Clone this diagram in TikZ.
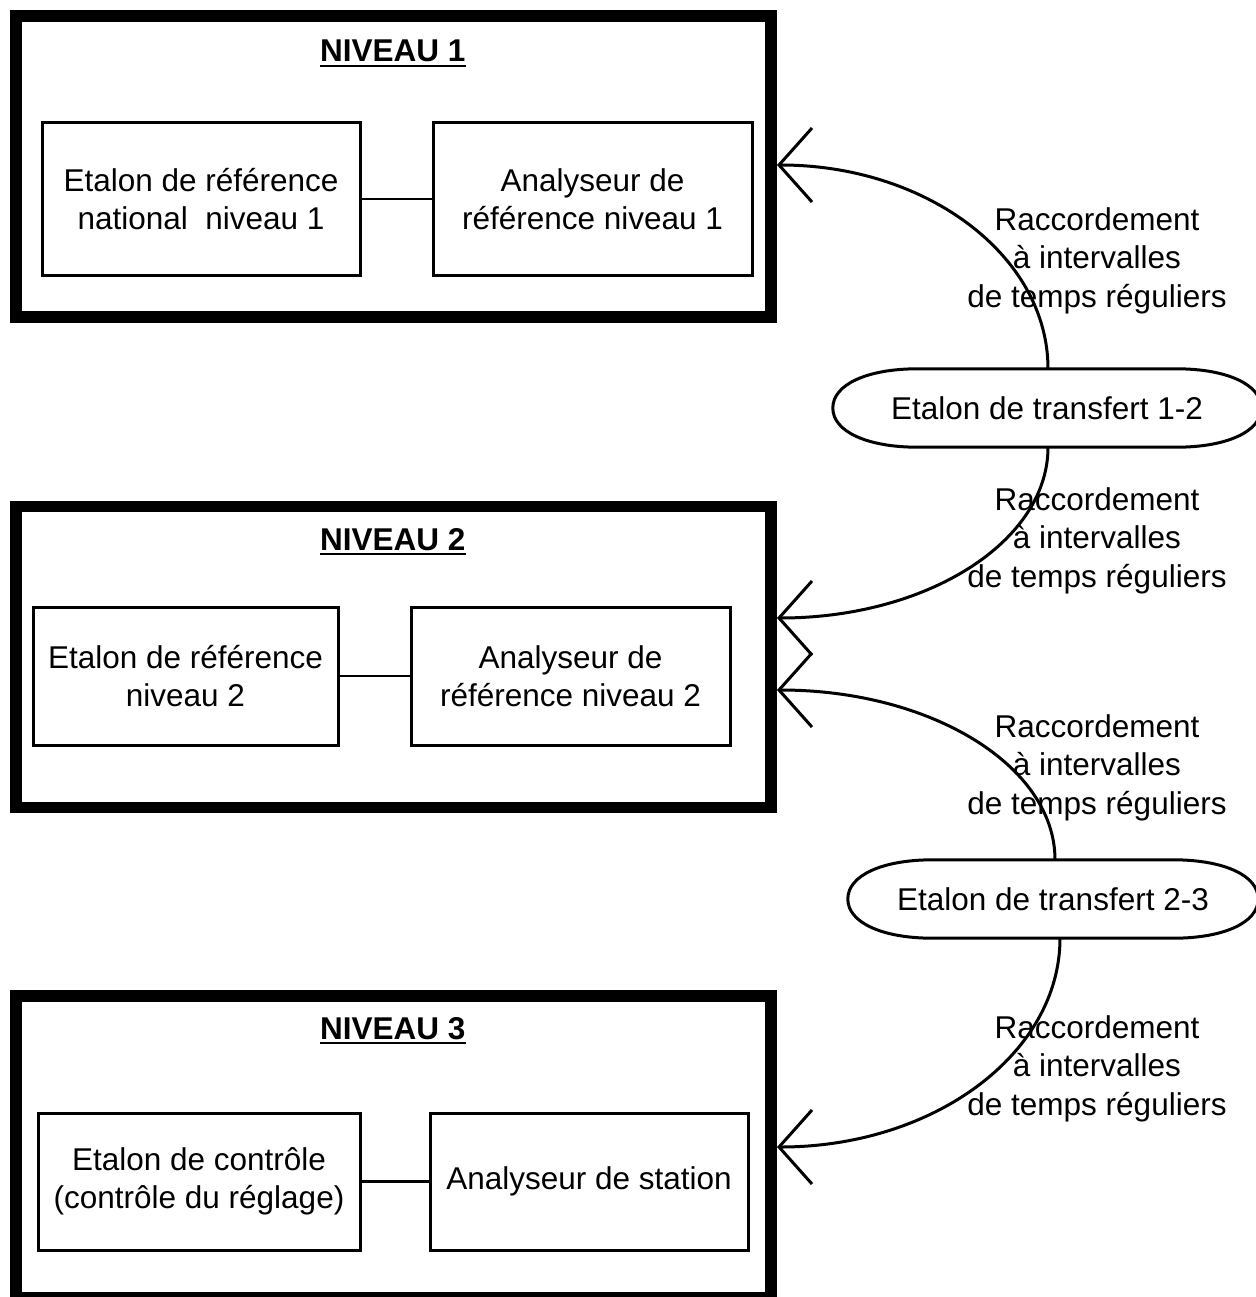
\documentclass[tikz,border=0pt]{standalone}
\usepackage{fontspec}
\setmainfont{Liberation Sans}
\usetikzlibrary{arrows.meta}
\tikzset{
  txt/.style={font=\fontsize{31.5}{38.5}\selectfont, align=center},
  outerbox/.style={draw, line width=11.5pt, minimum width=755pt, minimum height=301pt, inner sep=0pt},
  innerbox/.style={draw, line width=3pt, txt, inner sep=0pt},
  link/.style={line width=2.5pt},
  arr/.style={line width=3pt, -{Straight Barb[length=33pt,width=74pt]}},
  tline/.style={line width=3pt},
  transfer/.style={txt, inner sep=0pt, minimum height=78pt},
  titlestyle/.style={font=\fontsize{31.5}{38.5}\selectfont\bfseries, inner sep=0pt, anchor=base west},
  ul/.style={line width=2.7pt},
  lbl/.style={txt, inner sep=0pt},
}
\begin{document}
\begin{tikzpicture}[x=1pt,y=-1pt]
\useasboundingbox (0,0) rectangle (1255,1297);

% outer level boxes
\node[outerbox] (b1) at (393.5,166.5) {};
\node[outerbox] (b2) at (393.5,657) {};
\node[outerbox, minimum height=302pt] (b3) at (393.5,1147) {};

% titles
\node[titlestyle] (ti1) at (320,62) {NIVEAU 1};
\node[titlestyle] (ti2) at (320,550) {NIVEAU 2};
\node[titlestyle] (ti3) at (320,1039) {NIVEAU 3};
\draw[ul] ([yshift=-4pt]ti1.base west) -- ([yshift=-4pt]ti1.base east);
\draw[ul] ([yshift=-4pt]ti2.base west) -- ([yshift=-4pt]ti2.base east);
\draw[ul] ([yshift=-4pt]ti3.base west) -- ([yshift=-4pt]ti3.base east);

% inner boxes level 1
\node[innerbox, minimum width=318pt, minimum height=152pt] (e1) at (201,199) {Etalon de référence\\national\ \ niveau 1};
\node[innerbox, minimum width=319pt, minimum height=152pt] (a1) at (592.5,199) {Analyseur de\\référence niveau 1};
\draw[link] (e1.east) -- (a1.west);

% inner boxes level 2
\node[innerbox, minimum width=305pt, minimum height=138pt] (e2) at (185.5,676) {Etalon de référence\\niveau 2};
\node[innerbox, minimum width=319pt, minimum height=138pt] (a2) at (570.5,676) {Analyseur de\\référence niveau 2};
\draw[link] (e2.east) -- (a2.west);

% inner boxes level 3
\node[innerbox, minimum width=322pt, minimum height=137pt] (e3) at (199,1181.5) {Etalon de contrôle\\(contrôle du réglage)};
\node[innerbox, minimum width=318pt, minimum height=137pt] (a3) at (589,1181.5) {Analyseur de station};
\draw[link] (e3.east) -- (a3.west);

% transfer standards
\node[transfer, minimum width=428pt] (t12) at (1047,408) {Etalon de transfert 1-2};
\node[transfer, minimum width=410pt] (t23) at (1053,899) {Etalon de transfert 2-3};

\draw[tline] ([xshift=85pt]t12.north west) -- ([xshift=-85pt]t12.north east)
  .. controls +(51,0) and +(0,-23.4) .. (t12.east)
  .. controls +(0,23.4) and +(51,0) .. ([xshift=-85pt]t12.south east)
  -- ([xshift=85pt]t12.south west)
  .. controls +(-51,0) and +(0,23.4) .. (t12.west)
  .. controls +(0,-23.4) and +(-51,0) .. ([xshift=85pt]t12.north west) -- cycle;

\draw[tline] ([xshift=85pt]t23.north west) -- ([xshift=-85pt]t23.north east)
  .. controls +(51,0) and +(0,-23.4) .. (t23.east)
  .. controls +(0,23.4) and +(51,0) .. ([xshift=-85pt]t23.south east)
  -- ([xshift=85pt]t23.south west)
  .. controls +(-51,0) and +(0,23.4) .. (t23.west)
  .. controls +(0,-23.4) and +(-51,0) .. ([xshift=85pt]t23.north west) -- cycle;

% arrow end points on the level boxes
\coordinate (p1) at (777,165);
\coordinate (p2) at (777,618);
\coordinate (p3) at (777,690);
\coordinate (p4) at (777,1147);

\draw[arr] ([xshift=1pt]t12.north) .. controls +(0,-112.7) and +(150.2,0) .. (p1);
\draw[arr] ([xshift=1pt]t12.south) .. controls +(0,94.4) and +(150.2,0) .. (p2);
\draw[arr] ([xshift=2pt]t23.north) .. controls +(0,-93.9) and +(154.1,0) .. (p3);
\draw[arr] ([xshift=7pt]t23.south) .. controls +(0,115.4) and +(156.9,0) .. (p4);

% labels
\node[lbl] (l1) at (1097,260.5) {Raccordement\\à intervalles\\de temps réguliers};
\node[lbl] (l2) at (1097,540.5) {Raccordement\\à intervalles\\de temps réguliers};
\node[lbl] (l3) at (1097,767.5) {Raccordement\\à intervalles\\de temps réguliers};
\node[lbl] (l4) at (1097,1068.5) {Raccordement\\à intervalles\\de temps réguliers};
\end{tikzpicture}
\end{document}
